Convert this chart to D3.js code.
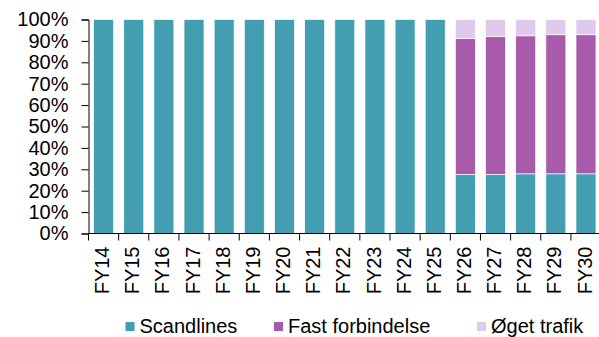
<!DOCTYPE html>
<html>
<head>
<meta charset="utf-8">
<script src="https://cdn.jsdelivr.net/npm/d3@7/dist/d3.min.js"></script>
<style>
  html, body { margin: 0; padding: 0; background: #fff; }
  svg { display: block; font-family: "Liberation Sans", Arial, sans-serif; }
</style>
</head>
<body>
<svg id="chart" width="599" height="337"></svg>
<script>
// Fiscal years on the x axis
const years = ["FY14","FY15","FY16","FY17","FY18","FY19","FY20","FY21","FY22","FY23","FY24","FY25","FY26","FY27","FY28","FY29","FY30"];

// Share of traffic by source (percent of total)
const scandlines       = [100,100,100,100,100,100,100,100,100,100,100,100,27.6,27.6,27.9,27.9,27.9];
const fastForbindelse  = [0,0,0,0,0,0,0,0,0,0,0,0,63.6,64.4,64.5,65.0,65.0];
const oegetTrafik      = [0,0,0,0,0,0,0,0,0,0,0,0,8.8,8.0,7.6,7.1,7.1];

const seriesNames = ["Scandlines", "Fast forbindelse", "Øget trafik"];
const yTickValues = [0,10,20,30,40,50,60,70,80,90,100];

const colors = {
  "Scandlines": "#429EB0",
  "Fast forbindelse": "#A85BAA",
  "Øget trafik": "#DFCAEE"
};

const rows = years.map((y, i) => ({
  year: y,
  "Scandlines": scandlines[i],
  "Fast forbindelse": fastForbindelse[i],
  "Øget trafik": oegetTrafik[i]
}));

const svg = d3.select("#chart");
const plotLeft = 88.5, plotTop = 19.5, plotBottom = 233.5;
const step = 30.15;
const plotRight = plotLeft + step * years.length;

const x = d3.scaleBand()
  .domain(years)
  .range([plotLeft, plotRight])
  .paddingInner(0.337)
  .paddingOuter(0.337 / 2);

const y = d3.scaleLinear().domain([0, 100]).range([plotBottom, plotTop]);

const stacked = d3.stack().keys(seriesNames)(rows);

// Stacked bars
svg.append("g")
  .selectAll("g")
  .data(stacked)
  .join("g")
  .attr("fill", d => colors[d.key])
  .selectAll("rect")
  .data(d => d.filter(s => s[1] - s[0] > 0))
  .join("rect")
  .attr("x", d => x(d.data.year))
  .attr("width", x.bandwidth())
  .attr("y", d => y(d[1]))
  .attr("height", d => y(d[0]) - y(d[1]))
  .attr("stroke", "#ffffff")
  .attr("stroke-width", 0.8)
  .attr("stroke-opacity", 0.85);

// Y axis
const yAxis = svg.append("g")
  .attr("transform", `translate(${plotLeft},0)`)
  .call(d3.axisLeft(y)
    .tickValues(yTickValues)
    .tickSize(7)
    .tickPadding(13)
    .tickFormat(d => d + "%"));
yAxis.select(".domain").attr("stroke", "#000");
yAxis.selectAll(".tick line").attr("stroke", "#000");
yAxis.selectAll("text")
  .attr("font-size", 20)
  .attr("font-family", "Liberation Sans, Arial, sans-serif")
  .attr("fill", "#000");

// X axis: labels centred on bars, ticks on category boundaries
const xAxis = svg.append("g")
  .attr("transform", `translate(0,${plotBottom})`)
  .call(d3.axisBottom(x).tickSize(0).tickPadding(0));
xAxis.select(".domain").attr("stroke", "#000").attr("d", `M${plotLeft},0H${plotRight}`);
xAxis.selectAll(".tick text")
  .attr("font-size", 20)
  .attr("font-family", "Liberation Sans, Arial, sans-serif")
  .attr("fill", "#000")
  .attr("text-anchor", "end")
  .attr("transform", "translate(0,13) rotate(-90)")
  .attr("x", 0)
  .attr("y", 0)
  .attr("dy", "0.28em");

xAxis.selectAll(".boundary")
  .data(years)
  .join("line")
  .attr("class", "boundary")
  .attr("x1", d => x(d) - x.step() * x.paddingInner() / 2)
  .attr("x2", d => x(d) - x.step() * x.paddingInner() / 2)
  .attr("y1", 0)
  .attr("y2", 7)
  .attr("stroke", "#000");

// Legend
const legendX = [125.5, 274, 477];
const legend = svg.append("g")
  .selectAll("g")
  .data(seriesNames)
  .join("g")
  .attr("transform", (d, i) => `translate(${legendX[i]},0)`);
legend.append("rect")
  .attr("x", 0).attr("y", 322)
  .attr("width", 9).attr("height", 9)
  .attr("fill", d => colors[d]);
legend.append("text")
  .attr("x", 14).attr("y", 333)
  .attr("font-size", 20)
  .attr("fill", "#000")
  .text(d => d);
</script>
</body>
</html>
